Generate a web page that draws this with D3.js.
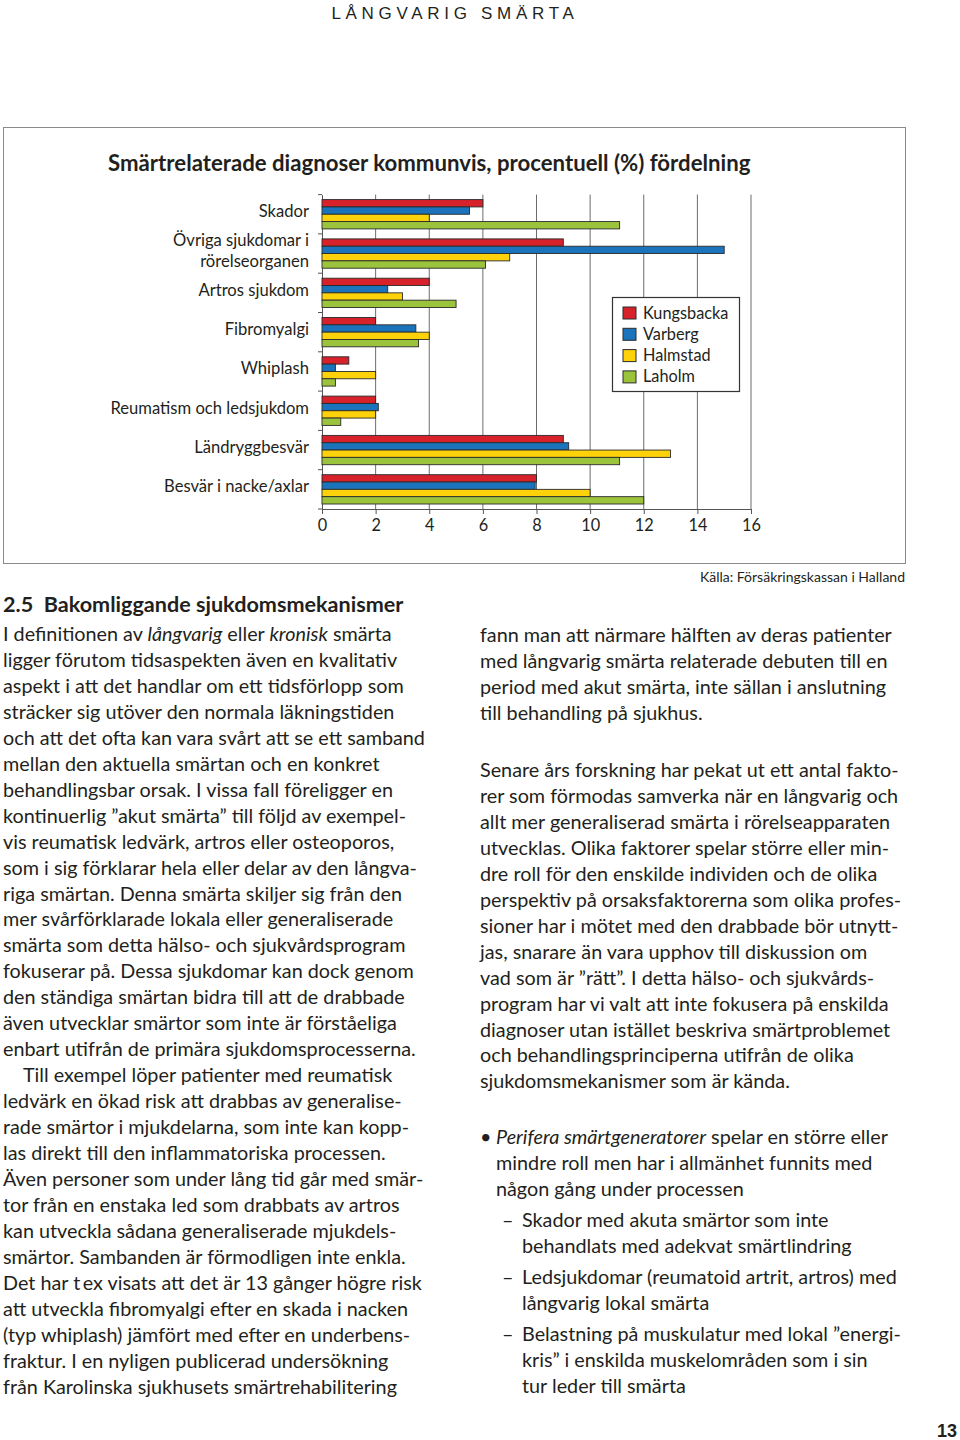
<!DOCTYPE html>
<html><head><meta charset="utf-8">
<script src="https://cdn.jsdelivr.net/npm/d3@7"></script>
<style>
html,body{margin:0;padding:0;background:#fff;}
svg{display:block;}
text{font-family:Lato,"Open Sans",sans-serif;fill:#231f20;}
</style></head>
<body>
<svg id="page" width="960" height="1440"></svg>
<script>
// ---------- DATA ----------
const categories = ["Skador","Övriga sjukdomar i rörelseorganen","Artros sjukdom","Fibromyalgi","Whiplash","Reumatism och ledsjukdom","Ländryggbesvär","Besvär i nacke/axlar"];
const categoryLabels = [["Skador"],["Övriga sjukdomar i","rörelseorganen"],["Artros sjukdom"],["Fibromyalgi"],["Whiplash"],["Reumatism och ledsjukdom"],["Ländryggbesvär"],["Besvär i nacke/axlar"]];
const seriesNames = ["Kungsbacka","Varberg","Halmstad","Laholm"];
const kungsbacka = [6, 9, 4, 2, 1, 2, 9, 8];
const varberg    = [5.5, 15, 2.45, 3.5, 0.5, 2.1, 9.2, 7.95];
const halmstad   = [4, 7, 3, 4, 2, 2, 13, 10];
const laholm     = [11.1, 6.1, 5, 3.6, 0.5, 0.7, 11.1, 12];
const xTicks = [0,2,4,6,8,10,12,14,16];
const seriesColors = ["#d7212b","#1b74bb","#fdd20a","#9cc33c"];

const chartTitle = "Smärtrelaterade diagnoser kommunvis, procentuell (%) fördelning";
const sourceNote = "Källa: Försäkringskassan i Halland";
const runningHead = "LÅNGVARIG SMÄRTA";
const sectionHeading = "2.5  Bakomliggande sjukdomsmekanismer";
const pageNumber = "13";

const leftColumn = [
 "I definitionen av *långvarig* eller *kronisk* smärta",
 "ligger förutom tidsaspekten även en kvalitativ",
 "aspekt i att det handlar om ett tidsförlopp som",
 "sträcker sig utöver den normala läkningstiden",
 "och att det ofta kan vara svårt att se ett samband",
 "mellan den aktuella smärtan och en konkret",
 "behandlingsbar orsak. I vissa fall föreligger en",
 "kontinuerlig ”akut smärta” till följd av exempel-",
 "vis reumatisk ledvärk, artros eller osteoporos,",
 "som i sig förklarar hela eller delar av den långva-",
 "riga smärtan. Denna smärta skiljer sig från den",
 "mer svårförklarade lokala eller generaliserade",
 "smärta som detta hälso- och sjukvårdsprogram",
 "fokuserar på. Dessa sjukdomar kan dock genom",
 "den ständiga smärtan bidra till att de drabbade",
 "även utvecklar smärtor som inte är förståeliga",
 "enbart utifrån de primära sjukdomsprocesserna.",
 ">Till exempel löper patienter med reumatisk",
 "ledvärk en ökad risk att drabbas av generalise-",
 "rade smärtor i mjukdelarna, som inte kan kopp-",
 "las direkt till den inflammatoriska processen.",
 "Även personer som under lång tid går med smär-",
 "tor från en enstaka led som drabbats av artros",
 "kan utveckla sådana generaliserade mjukdels-",
 "smärtor. Sambanden är förmodligen inte enkla.",
 "Det har t\u2009ex visats att det är 13 gånger högre risk",
 "att utveckla fibromyalgi efter en skada i nacken",
 "(typ whiplash) jämfört med efter en underbens-",
 "fraktur. I en nyligen publicerad undersökning",
 "från Karolinska sjukhusets smärtrehabilitering"
];
const rightPara1 = [
 "fann man att närmare hälften av deras patienter",
 "med långvarig smärta relaterade debuten till en",
 "period med akut smärta, inte sällan i anslutning",
 "till behandling på sjukhus."
];
const rightPara2 = [
 "Senare års forskning har pekat ut ett antal fakto-",
 "rer som förmodas samverka när en långvarig och",
 "allt mer generaliserad smärta i rörelseapparaten",
 "utvecklas. Olika faktorer spelar större eller min-",
 "dre roll för den enskilde individen och de olika",
 "perspektiv på orsaksfaktorerna som olika profes-",
 "sioner har i mötet med den drabbade bör utnytt-",
 "jas, snarare än vara upphov till diskussion om",
 "vad som är ”rätt”. I detta hälso- och sjukvårds-",
 "program har vi valt att inte fokusera på enskilda",
 "diagnoser utan istället beskriva smärtproblemet",
 "och behandlingsprinciperna utifrån de olika",
 "sjukdomsmekanismer som är kända."
];
const bulletLines = [
 "*Perifera smärtgeneratorer* spelar en större eller",
 "mindre roll men har i allmänhet funnits med",
 "någon gång under processen"
];
const dashItems = [
 ["Skador med akuta smärtor som inte","behandlats med adekvat smärtlindring"],
 ["Ledsjukdomar (reumatoid artrit, artros) med","långvarig lokal smärta"],
 ["Belastning på muskulatur med lokal ”energi-","kris” i enskilda muskelområden som i sin","tur leder till smärta"]
];

// ---------- DRAW ----------
const svg = d3.select("#page");
const seriesValues = [kungsbacka, varberg, halmstad, laholm];
const rows = categories.map((c,i)=>({cat:c, labels:categoryLabels[i], vals:seriesNames.map((s,j)=>({s, v:seriesValues[j][i], color:seriesColors[j]}))}));

// running head
svg.append("text").attr("x",455).attr("y",19).attr("text-anchor","middle")
  .style("font-size","17px").style("letter-spacing","4.7px").style("font-family","'Liberation Sans',Lato,sans-serif").style("font-weight","300")
  .attr("fill","#231f20").text(runningHead);

// chart frame
svg.append("rect").attr("x",3.5).attr("y",127.5).attr("width",902).attr("height",436)
  .attr("fill","#fff").attr("stroke","#8a8a8a").attr("stroke-width",1);

svg.append("text").attr("x",108).attr("y",171).style("font-size","22.2px").style("font-weight","bold")
  .text(chartTitle);

const x = d3.scaleLinear().domain([0,16]).range([322,751]);
const y0 = d3.scaleBand().domain(categories).range([194.6,509]).paddingInner(0).paddingOuter(0);
const y1 = d3.scaleBand().domain(seriesNames).range([5, y0.bandwidth()-5]).padding(0);

// gridlines
const g = svg.append("g");
g.selectAll("line.grid").data(xTicks.filter(t=>t>0)).join("line")
  .attr("x1",d=>x(d)).attr("x2",d=>x(d)).attr("y1",y0.range()[0]).attr("y2",y0.range()[1])
  .attr("stroke","#6d6d6d").attr("stroke-width",1);

// bottom axis
const xAxis = d3.axisBottom(x).tickValues(xTicks).tickSize(5).tickSizeOuter(0).tickFormat(d3.format("d"));
const xa = svg.append("g").attr("transform",`translate(0,${y0.range()[1]})`).call(xAxis);
xa.select(".domain").attr("stroke","#555");
xa.selectAll(".tick line").attr("stroke","#555");
xa.selectAll(".tick text").attr("dy",0).attr("y",22).style("font-size","16.3px").style("font-family","Lato,sans-serif").attr("fill","#231f20");

// left axis
const yAxis = d3.axisLeft(y0).tickSize(0).tickFormat("");
const ya = svg.append("g").attr("transform",`translate(${x(0)},0)`).call(yAxis);
ya.select(".domain").attr("stroke","#555");
// boundary ticks
svg.append("g").selectAll("line").data(d3.range(categories.length+1)).join("line")
  .attr("x1",x(0)-4).attr("x2",x(0)).attr("y1",i=>y0.range()[0]+i*y0.bandwidth()).attr("y2",i=>y0.range()[0]+i*y0.bandwidth())
  .attr("stroke","#555");

// category labels
const lab = svg.append("g").selectAll("text").data(rows).join("text")
  .attr("text-anchor","end").style("font-size","16.6px");
lab.each(function(d){
  const t = d3.select(this);
  const cy = y0(d.cat)+y0.bandwidth()/2 - 3;
  const n = d.labels.length;
  d.labels.forEach((l,k)=>{
    t.append("tspan").attr("x",309).attr("y",cy + 6 + (k-(n-1)/2)*21).text(l);
  });
});

// bars
const grp = svg.append("g").selectAll("g").data(rows).join("g")
  .attr("transform",d=>`translate(0,${y0(d.cat)})`);
grp.selectAll("rect").data(d=>d.vals).join("rect")
  .attr("x",x(0)).attr("y",d=>y1(d.s)).attr("height",y1.bandwidth())
  .attr("width",d=>x(d.v)-x(0)).attr("fill",d=>d.color)
  .attr("stroke","#2a2a2a").attr("stroke-width",0.9);

// legend
const lg = svg.append("g").attr("transform","translate(612,297)");
lg.append("rect").attr("x",0.5).attr("y",0.5).attr("width",127).attr("height",94).attr("fill","#fff").attr("stroke","#333").attr("stroke-width",1.2);
const li = lg.selectAll("g").data(seriesNames).join("g").attr("transform",(d,i)=>`translate(0,${10+i*21.3})`);
li.append("rect").attr("x",11).attr("y",0).attr("width",13).attr("height",12).attr("fill",(d,i)=>seriesColors[i]).attr("stroke","#2a2a2a").attr("stroke-width",1);
li.append("text").attr("x",31).attr("y",11.5).style("font-size","16.3px").text(d=>d);

// source
svg.append("text").attr("x",905).attr("y",582).attr("text-anchor","end").style("font-size","14px").text(sourceNote);

// section heading
svg.append("text").attr("x",3).attr("y",612).style("font-size","21.6px").style("font-weight","bold").attr("xml:space","preserve").text(sectionHeading);

// body text helper
const BODY = 19.8;
function richLine(sel, str, xPos, yPos){
  const t = sel.append("text").attr("x",xPos).attr("y",yPos).style("font-size",BODY+"px");
  str.split(/(\*[^*]+\*)/).filter(s=>s.length).forEach(seg=>{
    if(seg.startsWith("*")) t.append("tspan").style("font-style","italic").text(seg.slice(1,-1));
    else t.append("tspan").text(seg);
  });
  return t;
}
const body = svg.append("g");
const LH = 25.95;
leftColumn.forEach((l,i)=>{
  let xp = 3, s = l;
  if(s.startsWith(">")){ xp = 23; s = s.slice(1); }
  richLine(body, s, xp, 641 + i*LH);
});
rightPara1.forEach((l,i)=> richLine(body, l, 480, 642 + i*LH));
rightPara2.forEach((l,i)=> richLine(body, l, 480, 777 + i*LH));
body.append("text").attr("x",480).attr("y",1144).style("font-size",BODY+"px").text("•");
bulletLines.forEach((l,i)=> richLine(body, l, 496, 1144 + i*LH));
const dashStarts = [1227, 1284, 1341];
dashItems.forEach((item,k)=>{
  body.append("text").attr("x",502).attr("y",dashStarts[k]).style("font-size",BODY+"px").text("–");
  item.forEach((l,i)=> richLine(body, l, 522, dashStarts[k] + i*LH));
});

// page number
svg.append("text").attr("x",957).attr("y",1437).attr("text-anchor","end")
  .style("font-family","'Liberation Sans',Arial,sans-serif").style("font-weight","bold").style("font-size","18px").text(pageNumber);
</script>
</body></html>
